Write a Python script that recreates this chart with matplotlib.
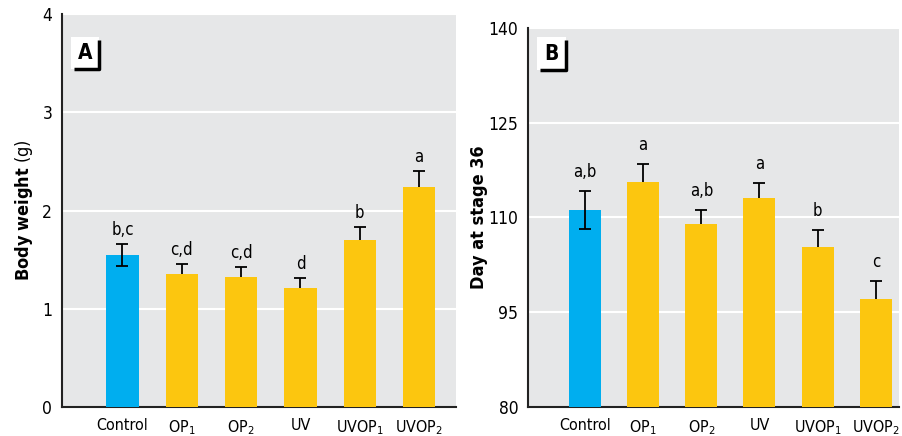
import numpy as np
import matplotlib
matplotlib.use("Agg")
import matplotlib.pyplot as plt
from matplotlib.patches import Rectangle

# fonts: condensed sans to mimic the journal style
plt.rcParams['font.family'] = ['DejaVu Sans']
plt.rcParams['font.stretch'] = 'condensed'
plt.rcParams['mathtext.fontset'] = 'custom'
plt.rcParams['mathtext.rm'] = 'DejaVu Sans:stretch=condensed'
plt.rcParams['mathtext.bf'] = 'DejaVu Sans:bold:stretch=condensed'
plt.rcParams['mathtext.default'] = 'regular'

# data
groups = ['Control', 'OP$_1$', 'OP$_2$', 'UV', 'UVOP$_1$', 'UVOP$_2$']

weight = [1.55, 1.35, 1.32, 1.21, 1.70, 2.24]
weight_err = [0.11, 0.11, 0.11, 0.10, 0.13, 0.16]
weight_letters = ['b,c', 'c,d', 'c,d', 'd', 'b', 'a']

day = [111.2, 115.6, 109.0, 113.1, 105.3, 97.1]
day_err = [3.0, 2.9, 2.2, 2.4, 2.7, 2.8]
day_letters = ['a,b', 'a', 'a,b', 'a', 'b', 'c']

# only the control bar shows the lower whisker
two_sided = [True, False, False, False, False, False]

blue = '#00aeef'
yellow = '#fcc60f'
panel_bg = '#e6e7e8'

fig = plt.figure(figsize=(9.02, 4.36), dpi=100)
axA = fig.add_axes([0.0687, 0.0665, 0.4368, 0.9014])
axB = fig.add_axes([0.5854, 0.0665, 0.4113, 0.8693])


def draw_panel(ax, vals, errs, letters, yticks, ylabel, tag, tag_box, xlim, letter_off, lpad):
    x = np.arange(len(vals))
    colors = [blue] + [yellow] * (len(vals) - 1)
    ax.set_facecolor(panel_bg)
    ax.bar(x, vals, width=0.55, color=colors, zorder=3)

    lower = [e if t else 0 for e, t in zip(errs, two_sided)]
    _, caps, bars = ax.errorbar(x, vals, yerr=[lower, errs], fmt='none', ecolor='black',
                                elinewidth=1.3, capsize=4.5, capthick=1.3, zorder=4)
    # hide lower caps on the one-sided bars
    caps[0].set_markevery([i for i, t in enumerate(two_sided) if t])

    for xi, v, e, lab in zip(x, vals, errs, letters):
        ax.text(xi, v + e + letter_off, lab, ha='center', va='bottom', fontsize=12)

    ax.set_xlim(*xlim)
    ax.set_ylim(yticks[0], yticks[-1])
    ax.set_yticks(yticks)
    ax.set_xticks(x)
    ax.set_xticklabels(groups)
    ax.tick_params(axis='both', length=0)
    ax.tick_params(axis='x', pad=8, labelsize=11.5)
    ax.tick_params(axis='y', pad=7, labelsize=12.5)
    ax.yaxis.grid(True, color='white', linewidth=1.5)
    ax.set_axisbelow(True)
    for s in ['top', 'right']:
        ax.spines[s].set_visible(False)
    for s in ['left', 'bottom']:
        ax.spines[s].set_linewidth(1.5)
        ax.spines[s].set_color('#222222')
    ax.set_ylabel(ylabel, fontsize=13, labelpad=lpad)

    # panel tag: white box with black L-shaped shadow
    x0, y0, x1, y1 = tag_box
    ax.add_patch(Rectangle((x0, y0), x1 - x0, y1 - y0, transform=ax.transAxes,
                           facecolor='white', edgecolor='none', zorder=5))
    ax.plot([x0 + 0.008, x1, x1], [y0, y0, y1 - 0.008], transform=ax.transAxes,
            color='black', linewidth=2.5, solid_capstyle='butt', zorder=6)
    ax.text((x0 + x1) / 2, (y0 + y1) / 2, tag, transform=ax.transAxes, ha='center',
            va='center', fontsize=15, fontweight='bold', zorder=7)


draw_panel(axA, weight, weight_err, weight_letters, [0, 1, 2, 3, 4],
           r'$\mathbf{Body\ weight}$ (g)', 'A', (0.023, 0.860, 0.094, 0.941),
           (-1.02, 5.62), 0.05, 5)
draw_panel(axB, day, day_err, day_letters, [80, 95, 110, 125, 140],
           'Day at stage 36', 'B', (0.024, 0.889, 0.102, 0.976),
           (-0.98, 5.40), 1.6, 0)
axB.yaxis.label.set_fontweight('bold')

fig.savefig('out.png', dpi=100)
